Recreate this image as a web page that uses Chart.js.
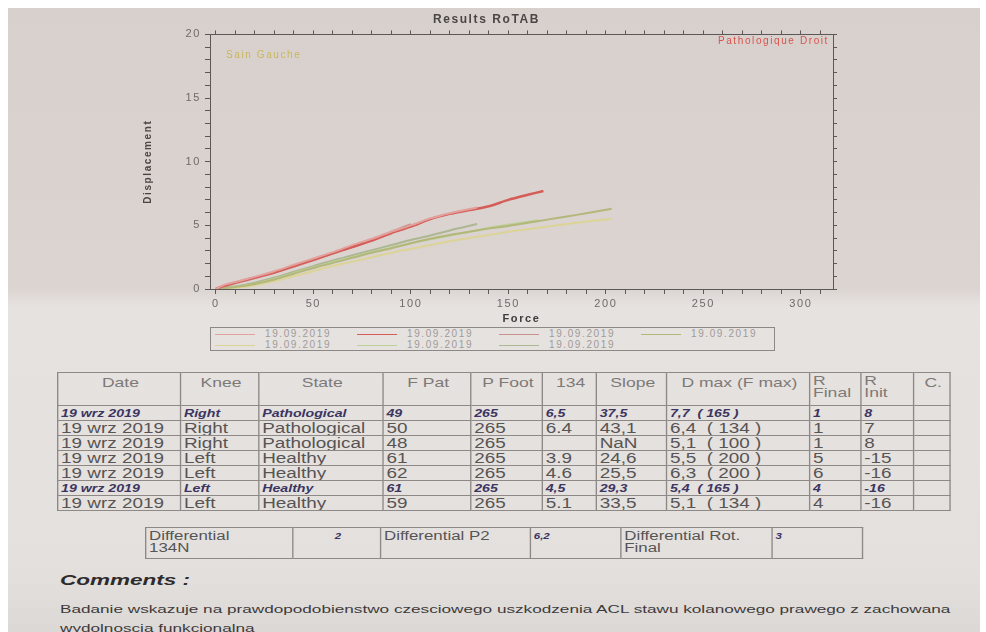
<!DOCTYPE html>
<html>
<head>
<meta charset="utf-8">
<script src="https://cdn.jsdelivr.net/npm/chart.js@4.4.1/dist/chart.umd.min.js"></script>
<style>
  html, body { margin: 0; padding: 0; }
  body { width: 986px; height: 632px; overflow: hidden; background: #fff; position: relative;
         font-family: "Liberation Sans", Arial, sans-serif; }
  #paper { position: absolute; left: 8px; top: 8px; width: 972px; height: 624px;
           background: linear-gradient(to bottom, #d8d0cd 0px, #dbd4d1 280px, #e6e2e0 298px, #e4e0de 560px, #dcd8d6 624px); }
  #chartBox { position: absolute; left: 110px; top: 8px; width: 735px; height: 318px; }
  #legend { position: absolute; left: 210px; top: 327px; width: 563px; height: 22px; border: 1px solid #8d8885; }
  .lg { position: absolute; height: 11px; font-size: 10px; line-height: 11px; color: #a09a98; letter-spacing: 1.6px; white-space: nowrap; }
  .lg i { display: inline-block; width: 40px; height: 0; border-top: 1px solid; vertical-align: middle; margin-right: 10px; }
  .stretch { position: absolute; transform: scaleX(1.35); transform-origin: 0 0; }
  table { border-collapse: collapse; table-layout: fixed; }
  td { border: 1px solid #8e8986; padding: 0 0 0 2px; color: #575454; font-size: 14px; line-height: 14px; height: 14px;
       white-space: nowrap; overflow: hidden; vertical-align: middle; }
  tr.hd td { height: 28px; vertical-align: top; color: #7d7977; font-size: 13px; line-height: 12px; padding-top: 4px; text-align: center; }
  tr.hd td.l { text-align: left; padding-top: 2px; }
  tr.sel td { font-weight: bold; font-style: italic; font-size: 10.5px; color: #3b3562; }
  #diff td { height: 28px; font-size: 12.5px; line-height: 12px; vertical-align: top; padding-top: 2px; color: #555; white-space: normal; }
  #diff td.v { font-weight: bold; font-style: italic; font-size: 8.5px; color: #3b3562; }
  #comments { left: 60px; top: 571px; font-size: 15px; font-weight: bold; font-style: italic; color: #2e2b2b;
              transform: scaleX(1.5); }
  #commentText { left: 60px; top: 600px; font-size: 11px; line-height: 19px; color: #3d3a3a; transform: scaleX(1.56); }
</style>
</head>
<body>
<div id="paper"></div>
<div id="chartBox"><canvas id="rotab"></canvas></div>
<div id="legend"></div>

<div class="stretch" style="left:57px;top:372px;">
  <table id="results" style="width:661px;">
    <colgroup>
      <col style="width:91px"><col style="width:58px"><col style="width:92px"><col style="width:65px">
      <col style="width:53px"><col style="width:40px"><col style="width:52px"><col style="width:106px">
      <col style="width:38px"><col style="width:39px"><col style="width:27px">
    </colgroup>
    <tbody></tbody>
  </table>
</div>

<div class="stretch" style="left:145px;top:527px;">
  <table id="diff" style="width:531px;">
    <colgroup>
      <col style="width:109px"><col style="width:65px"><col style="width:111px">
      <col style="width:67px"><col style="width:112px"><col style="width:67px">
    </colgroup>
    <tr>
      <td>Differential<br>134N</td><td class="v" style="text-align:center">2</td>
      <td>Differential P2</td><td class="v">6,2</td>
      <td>Differential Rot.<br>Final</td><td class="v">3</td>
    </tr>
  </table>
</div>

<div class="stretch" id="comments">Comments :</div>
<div class="stretch" id="commentText">Badanie wskazuje na prawdopodobienstwo czesciowego uszkodzenia ACL stawu kolanowego prawego z zachowana<br>wydolnoscia funkcjonalna</div>

<script>
// ===== curves (Force N, Displacement mm) =====
const forceP1 = [0, 4, 10, 20, 30, 40, 50, 60, 70, 80, 90, 100, 110, 120, 130, 140, 150, 160, 168];
const dispP1  = [0, 0.25, 0.5, 0.9, 1.3, 1.8, 2.3, 2.8, 3.3, 3.8, 4.4, 4.9, 5.5, 5.9, 6.2, 6.5, 7.0, 7.4, 7.7];
const forceP2 = [0, 4, 10, 20, 30, 40, 50, 60, 70, 80, 90, 100, 110, 120, 134];
const dispP2  = [0, 0.3, 0.55, 0.95, 1.4, 1.9, 2.4, 2.9, 3.45, 3.95, 4.5, 5.0, 5.55, 5.95, 6.4];
const forceP3 = [0, 4, 10, 20, 30, 40, 50, 60, 70, 80, 90, 100];
const dispP3  = [0, 0.2, 0.45, 0.85, 1.3, 1.75, 2.25, 2.8, 3.3, 3.85, 4.5, 5.1];
const forceH1 = [0, 10, 20, 30, 40, 50, 60, 70, 80, 90, 100, 110, 120, 130, 140, 150, 160, 170, 180, 190, 203];
const dispH1  = [0, 0.15, 0.4, 0.75, 1.2, 1.65, 2.05, 2.45, 2.85, 3.2, 3.6, 3.95, 4.25, 4.5, 4.75, 4.95, 5.2, 5.45, 5.7, 5.95, 6.3];
const forceH2 = [0, 10, 20, 30, 40, 50, 60, 70, 80, 90, 100, 110, 120, 130, 140, 150, 160, 170, 180, 190, 203];
const dispH2  = [0, 0.1, 0.3, 0.6, 1.0, 1.4, 1.8, 2.15, 2.5, 2.85, 3.15, 3.45, 3.75, 4.0, 4.25, 4.5, 4.7, 4.9, 5.1, 5.3, 5.5];
const forceH3 = [0, 10, 20, 30, 40, 50, 60, 70, 80, 90, 100, 110, 120, 130, 140, 150, 165];
const dispH3  = [0, 0.15, 0.4, 0.8, 1.25, 1.7, 2.1, 2.5, 2.9, 3.25, 3.6, 3.9, 4.2, 4.5, 4.8, 5.05, 5.4];
const forceH4 = [0, 10, 20, 30, 40, 50, 60, 70, 80, 90, 100, 110, 120, 134];
const dispH4  = [0, 0.2, 0.5, 0.9, 1.35, 1.8, 2.25, 2.65, 3.05, 3.45, 3.85, 4.2, 4.6, 5.1];

const seriesLabels = ['19.09.2019', '19.09.2019', '19.09.2019', '19.09.2019', '19.09.2019', '19.09.2019', '19.09.2019'];
const seriesColors = ['#e3a19d', '#d65c58', '#c9928d', '#b3b87a', '#dcd496', '#bcd09a', '#adb792'];
const seriesForce  = [forceP2, forceP1, forceP3, forceH1, forceH2, forceH3, forceH4];
const seriesDisp   = [dispP2, dispP1, dispP3, dispH1, dispH2, dispH3, dispH4];

// ===== table =====
const tableHeader = ['Date', 'Knee', 'State', 'F Pat', 'P Foot', '134', 'Slope', 'D max (F max)', 'R<br>Final', 'R<br>Init', 'C.'];
const tableRows = [
  ['19 wrz 2019', 'Right', 'Pathological', '49', '265', '6,5', '37,5', '7,7  ( 165 )', '1', '8', ''],
  ['19 wrz 2019', 'Right', 'Pathological', '50', '265', '6.4', '43,1', '6,4  ( 134 )', '1', '7', ''],
  ['19 wrz 2019', 'Right', 'Pathological', '48', '265', '', 'NaN', '5,1  ( 100 )', '1', '8', ''],
  ['19 wrz 2019', 'Left', 'Healthy', '61', '265', '3.9', '24,6', '5,5  ( 200 )', '5', '-15', ''],
  ['19 wrz 2019', 'Left', 'Healthy', '62', '265', '4.6', '25,5', '6,3  ( 200 )', '6', '-16', ''],
  ['19 wrz 2019', 'Left', 'Healthy', '61', '265', '4,5', '29,3', '5,4  ( 165 )', '4', '-16', ''],
  ['19 wrz 2019', 'Left', 'Healthy', '59', '265', '5.1', '33,5', '5,1  ( 134 )', '4', '-16', '']
];
const selectedRows = [0, 5];

const tbody = document.querySelector('#results tbody');
let html = '<tr class="hd">' + tableHeader.map((h, i) =>
  `<td class="${i === 8 || i === 9 ? 'l' : ''}">${h}</td>`).join('') + '</tr>';
tableRows.forEach((r, i) => {
  html += `<tr class="${selectedRows.includes(i) ? 'sel' : ''}">` +
    r.map(c => `<td>${c.replace(/  /g, '&nbsp; ')}</td>`).join('') + '</tr>';
});
tbody.innerHTML = html;

// ===== legend (2 rows, 4 columns) =====
const legend = document.getElementById('legend');
seriesLabels.forEach((lab, i) => {
  const d = document.createElement('div');
  d.className = 'lg';
  d.style.left = (4 + (i % 4) * 142) + 'px';
  d.style.top = (Math.floor(i / 4) * 11) + 'px';
  d.innerHTML = `<i style="border-color:${seriesColors[i]}"></i>${lab}`;
  legend.appendChild(d);
});

// ===== napisy w rogach wykresu + rozciągnięty tekst jak na zdjęciu =====
const spacing = ctx => { ctx.letterSpacing = '1.6px'; };
const cornerText = {
  id: 'cornerText',
  beforeLayout(chart) { spacing(chart.ctx); },
  beforeDraw(chart) { spacing(chart.ctx); },
  afterDraw(chart) {
    const { ctx, chartArea: a } = chart;
    ctx.save();
    ctx.font = '10px "Liberation Sans", Arial, sans-serif';
    ctx.textBaseline = 'middle';
    ctx.fillStyle = '#c8b75c';
    ctx.textAlign = 'left';
    ctx.fillText('Sain Gauche', a.left + 16, a.top + 21);
    ctx.fillStyle = '#d9534c';
    ctx.textAlign = 'right';
    ctx.fillText('Pathologique Droit', a.right - 4, a.top + 7);
    ctx.restore();
  }
};

const axisColor = '#5c5857';
const tickColor = '#6e6a69';
// ticks every `step` from `from` to `to` (minor marks, labels only on major ones)
const stepTicks = (from, to, step) => s => {
  s.ticks = [];
  for (let v = from; v <= to + 1e-9; v += step) s.ticks.push({ value: v });
};

new Chart(document.getElementById('rotab'), {
  type: 'line',
  data: {
    datasets: seriesLabels.map((lab, i) => ({
      label: lab,
      data: seriesForce[i].map((f, j) => ({ x: f, y: seriesDisp[i][j] })),
      borderColor: seriesColors[i],
      borderWidth: i === 1 ? 2.5 : 2,
      pointRadius: 0,
      tension: 0.3,
      fill: false
    }))
  },
  options: {
    responsive: true,
    maintainAspectRatio: false,
    animation: false,
    layout: { padding: { left: 26, right: 8, top: 0, bottom: 0 } },
    plugins: {
      legend: { display: false },
      tooltip: { enabled: false },
      title: {
        display: true,
        text: 'Results RoTAB',
        color: '#4a4646',
        font: { family: '"Liberation Sans", Arial, sans-serif', size: 12, weight: 'bold' },
        padding: { top: 4, bottom: 4 }
      }
    },
    scales: {
      x: {
        type: 'linear', min: -3, max: 316.5,
        afterBuildTicks: stepTicks(0, 310, 10),
        ticks: {
          autoSkip: false, maxRotation: 0, padding: 3, color: tickColor,
          font: { family: '"Liberation Sans", Arial, sans-serif', size: 11 },
          callback: v => (v % 50 === 0 ? v : '')
        },
        grid: { drawOnChartArea: false, tickLength: 5, color: axisColor },
        border: { color: axisColor },
        title: {
          display: true, text: 'Force', color: '#3f3b3b',
          font: { family: '"Liberation Sans", Arial, sans-serif', size: 11, weight: 'bold' },
          padding: { top: 1, bottom: 0 }
        },
        afterFit: s => { s.height = 37; }
      },
      x2: {
        type: 'linear', position: 'top', min: -3, max: 316.5,
        afterBuildTicks: stepTicks(0, 310, 10),
        ticks: { display: false, autoSkip: false },
        grid: { drawOnChartArea: false, tickLength: 4, color: axisColor },
        border: { color: axisColor },
        afterFit: s => { s.height = 4; }
      },
      y: {
        type: 'linear', min: 0, max: 20,
        afterBuildTicks: stepTicks(0, 20, 1),
        ticks: {
          autoSkip: false, padding: 4, color: tickColor,
          font: { family: '"Liberation Sans", Arial, sans-serif', size: 11 },
          callback: v => (v % 5 === 0 ? v : '')
        },
        grid: { drawOnChartArea: false, tickLength: 5, color: axisColor },
        border: { color: axisColor },
        title: {
          display: true, text: 'Displacement', color: '#4a4646',
          font: { family: '"Liberation Sans", Arial, sans-serif', size: 10, weight: 'bold' },
          padding: { top: 6, bottom: 0 }
        },
        afterFit: s => { s.width = 74; }
      },
      y2: {
        type: 'linear', position: 'right', min: 0, max: 20,
        afterBuildTicks: stepTicks(0, 20, 1),
        ticks: { display: false, autoSkip: false },
        grid: { drawOnChartArea: false, tickLength: 4, color: axisColor },
        border: { color: axisColor },
        afterFit: s => { s.width = 4; }
      }
    }
  },
  plugins: [cornerText]
});
</script>
</body>
</html>
